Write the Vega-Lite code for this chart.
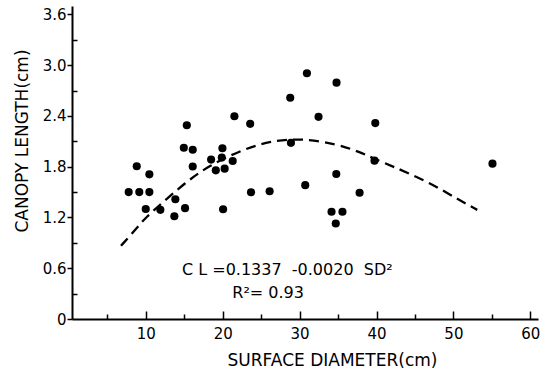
{
  "$schema": "https://vega.github.io/schema/vega-lite/v6.json",
  "width": 466,
  "height": 313,
  "autosize": "none",
  "padding": {"left": 72, "top": 6, "right": 12, "bottom": 52},
  "config": {
    "view": {"stroke": null},
    "font": "DejaVu Sans",
    "axis": {
      "grid": false,
      "domainColor": "black",
      "domainWidth": 2,
      "tickColor": "black",
      "tickWidth": 1.5,
      "labelColor": "black",
      "titleColor": "black",
      "labelFont": "DejaVu Sans",
      "titleFont": "DejaVu Sans",
      "titleFontWeight": "normal",
      "labelFontSize": 15,
      "titleFontSize": 17
    }
  },
  "encoding": {
    "x": {
      "field": "x",
      "type": "quantitative",
      "scale": {"domain": [0.4, 61], "nice": false, "zero": false},
      "axis": {
        "values": [5, 10, 15, 20, 25, 30, 35, 40, 45, 50, 55, 60],
        "title": "SURFACE DIAMETER(cm)",
        "labelExpr": "datum.value % 10 === 0 ? datum.label : ''",
        "tickSize": {"condition": {"test": "datum.value % 10 === 0", "value": -8}, "value": -5},
        "labelPadding": 15,
        "titleX": 260,
        "titleY": 46,
        "titleBaseline": "alphabetic",
        "titleAlign": "center"
      }
    },
    "y": {
      "field": "y",
      "type": "quantitative",
      "scale": {"domain": [0, 3.7], "nice": false, "zero": false},
      "axis": {
        "values": [0, 0.3, 0.6, 0.9, 1.2, 1.5, 1.8, 2.1, 2.4, 2.7, 3.0, 3.3, 3.6],
        "title": "CANOPY LENGTH(cm)",
        "labelExpr": "round(datum.value*10) % 6 === 0 ? (datum.value === 0 ? '0' : format(datum.value, '.1f')) : ''",
        "tickSize": {"condition": {"test": "round(datum.value*10) % 6 === 0", "value": 5}, "value": -5},
        "labelPadding": 1,
        "titleX": -45,
        "titleY": 134.5,
        "titleBaseline": "alphabetic",
        "titleAlign": "center"
      }
    }
  },
  "layer": [
    {
      "data": {"values": [
        {"x": 6.77, "y": 0.865},
        {"x": 8.82, "y": 1.075},
        {"x": 10.03, "y": 1.205},
        {"x": 12.0, "y": 1.36},
        {"x": 15.1, "y": 1.61},
        {"x": 18.14, "y": 1.81},
        {"x": 22.5, "y": 2.0},
        {"x": 26.2, "y": 2.105},
        {"x": 30.3, "y": 2.136},
        {"x": 34.86, "y": 2.07},
        {"x": 37.9, "y": 1.97},
        {"x": 39.6, "y": 1.9},
        {"x": 42.2, "y": 1.8},
        {"x": 46.6, "y": 1.627},
        {"x": 50.5, "y": 1.42},
        {"x": 53.1, "y": 1.29}
      ]},
      "mark": {"type": "line", "color": "black", "strokeDash": [10, 6], "strokeWidth": 2.3, "interpolate": "basis"}
    },
    {
      "data": {"values": [
        {"x": 7.77, "y": 1.5},
        {"x": 9.15, "y": 1.5},
        {"x": 10.46, "y": 1.5},
        {"x": 8.82, "y": 1.805},
        {"x": 10.46, "y": 1.71},
        {"x": 9.99, "y": 1.3},
        {"x": 11.89, "y": 1.29},
        {"x": 13.84, "y": 1.416},
        {"x": 13.71, "y": 1.214},
        {"x": 15.1, "y": 1.31},
        {"x": 15.33, "y": 2.29},
        {"x": 14.94, "y": 2.024},
        {"x": 16.1, "y": 2.0},
        {"x": 16.1, "y": 1.803},
        {"x": 18.49, "y": 1.884},
        {"x": 19.88, "y": 1.908},
        {"x": 19.96, "y": 2.018},
        {"x": 21.3, "y": 1.868},
        {"x": 19.1, "y": 1.757},
        {"x": 20.25, "y": 1.777},
        {"x": 20.05, "y": 1.297},
        {"x": 21.52, "y": 2.397},
        {"x": 23.57, "y": 2.307},
        {"x": 23.68, "y": 1.499},
        {"x": 26.1, "y": 1.51},
        {"x": 28.78, "y": 2.616},
        {"x": 28.87, "y": 2.082},
        {"x": 30.95, "y": 2.905},
        {"x": 30.73, "y": 1.582},
        {"x": 34.8, "y": 2.794},
        {"x": 32.46, "y": 2.39},
        {"x": 34.77, "y": 1.714},
        {"x": 34.15, "y": 1.268},
        {"x": 35.57, "y": 1.268},
        {"x": 34.7, "y": 1.129},
        {"x": 37.8, "y": 1.493},
        {"x": 39.84, "y": 2.316},
        {"x": 39.74, "y": 1.872},
        {"x": 55.08, "y": 1.836}
      ]},
      "mark": {"type": "circle", "color": "black", "opacity": 1, "size": 66}
    },
    {
      "data": {"values": [
        {"x": 28.4, "y": 0.58, "label": "C L =0.1337  \u00a0-0.0020 \u00a0SD²"},
        {"x": 25.9, "y": 0.308, "label": "R²= 0.93"}
      ]},
      "mark": {"type": "text", "fontSize": 16, "align": "center", "baseline": "middle", "color": "black", "font": "DejaVu Sans"},
      "encoding": {"text": {"field": "label", "type": "nominal"}}
    }
  ]
}
